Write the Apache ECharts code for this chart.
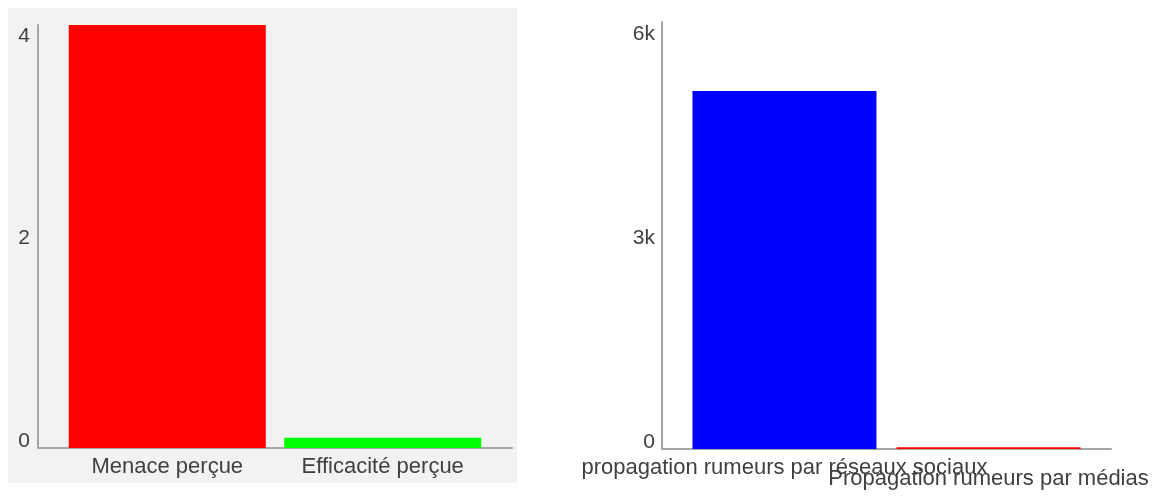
<!DOCTYPE html>
<html>
<head>
<meta charset="utf-8">
<script src="https://cdn.jsdelivr.net/npm/echarts@6/dist/echarts.min.js"></script>
<style>
body { margin: 0; background: #fff; }
#left { position: absolute; left: 8px; top: 8px; width: 509px; height: 475px; background: #f2f2f2; }
#right { position: absolute; left: 520px; top: 0; width: 637px; height: 502px; }
</style>
</head>
<body>
<div id="left"></div>
<div id="right"></div>
<script>
var leftCategories = ['Menace perçue', 'Efficacité perçue'];
var leftValues = [4.17, 0.1];
var leftColors = ['#ff0000', '#00ff00'];
var leftTicks = [0, 2, 4];

var rightCategories = ['propagation rumeurs par réseaux sociaux', 'Propagation rumeurs par médias'];
var rightValues = [5265, 25];
var rightColors = ['#0000ff', '#ff0000'];
var rightTicks = [0, 3000, 6000];
var rightTickLabels = ['0', '3k', '6k'];

var font = 'Arial, "Liberation Sans", sans-serif';
var axisColor = '#a6a6a6';
var textColor = '#404040';

function barData(vals, colors) {
    return vals.map(function (v, i) {
        return { value: [i, v], itemStyle: { color: colors[i] } };
    });
}

// x axis for one category label (the right chart staggers its two labels)
function labelAxis(cats, idx, margin, showLine) {
    return {
        type: 'value',
        position: 'bottom',
        min: -0.6,
        max: 1.6,
        splitLine: { show: false },
        axisTick: { show: false },
        axisLine: { show: showLine, lineStyle: { color: axisColor, width: 2 } },
        axisLabel: {
            customValues: [idx],
            margin: margin,
            fontSize: 22,
            fontFamily: font,
            color: textColor,
            formatter: function (v) { return cats[v]; }
        }
    };
}

var leftOption = {
    animation: false,
    grid: { left: 30, right: 5, top: 17, bottom: 35 },
    xAxis: {
        type: 'value',
        min: -0.6,
        max: 1.6,
        splitLine: { show: false },
        axisTick: { show: false },
        axisLine: { show: true, lineStyle: { color: axisColor, width: 2 } },
        axisLabel: {
            customValues: [0, 1],
            showMinLabel: true,
            showMaxLabel: true,
            margin: 8,
            fontSize: 22,
            fontFamily: font,
            color: textColor,
            formatter: function (v) { return leftCategories[v]; }
        }
    },
    yAxis: {
        type: 'value',
        min: 0,
        max: 'dataMax',
        splitLine: { show: false },
        axisTick: { show: false },
        axisLine: { show: true, onZero: false, lineStyle: { color: axisColor, width: 2 } },
        axisLabel: {
            customValues: leftTicks,
            showMinLabel: true,
            showMaxLabel: true,
            margin: 8,
            fontSize: 21,
            fontFamily: font,
            color: textColor,
            verticalAlign: 'bottom',
            lineHeight: 13
        }
    },
    series: [{
        type: 'bar',
        barWidth: 197,
        data: barData(leftValues, leftColors)
    }]
};

var rightOption = {
    animation: false,
    grid: { left: 142, right: 46, top: 22, bottom: 53 },
    xAxis: [
        labelAxis(rightCategories, 0, 8, true),
        labelAxis(rightCategories, 1, 19, false)
    ],
    yAxis: {
        type: 'value',
        min: 0,
        max: 6280,
        splitLine: { show: false },
        axisTick: { show: false },
        axisLine: { show: true, onZero: false, lineStyle: { color: axisColor, width: 2 } },
        axisLabel: {
            customValues: rightTicks,
            showMinLabel: true,
            showMaxLabel: true,
            margin: 7,
            fontSize: 21,
            fontFamily: font,
            color: textColor,
            verticalAlign: 'bottom',
            lineHeight: 14,
            formatter: function (v) { return rightTickLabels[rightTicks.indexOf(v)]; }
        }
    },
    series: [{
        type: 'bar',
        xAxisIndex: 0,
        barWidth: 184,
        data: barData(rightValues, rightColors)
    }]
};

var leftChart = echarts.init(document.getElementById('left'));
leftChart.setOption(leftOption);
var rightChart = echarts.init(document.getElementById('right'));
rightChart.setOption(rightOption);
</script>
</body>
</html>
